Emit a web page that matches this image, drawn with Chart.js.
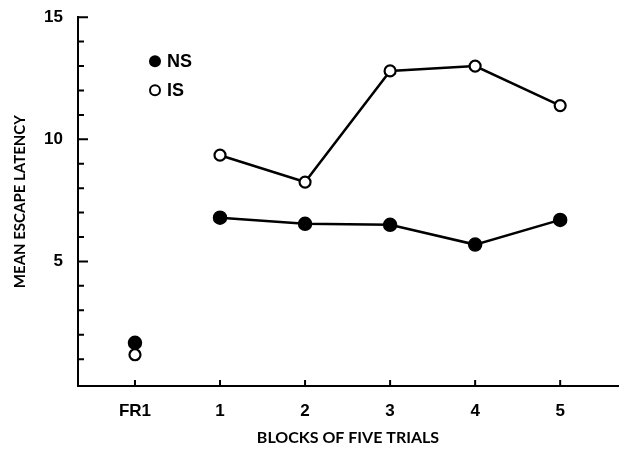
<!DOCTYPE html>
<html>
<head>
<meta charset="utf-8">
<script src="https://cdn.jsdelivr.net/npm/chart.js@4.4.1/dist/chart.umd.min.js"></script>
<style>
  html, body { margin: 0; padding: 0; background: #fff; }
  #wrap { width: 627px; height: 458px; }
</style>
</head>
<body>
<div id="wrap"><canvas id="latency"></canvas></div>
<script>
// Blocks on the x axis (FR1 stands apart from the rest)
const categories = ['FR1', '1', '2', '3', '4', '5'];
// Mean escape latency per block
const nsValues = [1.67, 6.79, 6.54, 6.5, 5.69, 6.7];
const isValues = [1.18, 9.35, 8.25, 12.8, 13.0, 11.38];
const yTickLabels = [5, 10, 15];

const toPoints = vals => vals.map((v, i) => ({ x: i, y: v }));
// no line between FR1 and block 1
const skipFirst = { borderColor: c => c.p0DataIndex === 0 ? 'rgba(0,0,0,0)' : '#000' };
const tickFont = { family: '"Liberation Sans", Arial, sans-serif', size: 17, weight: 'bold' };

// inward tick marks + legend inside the plot
const extras = {
    id: 'extras',
    afterDraw(chart) {
        const ctx = chart.ctx;
        const x = chart.scales.x, y = chart.scales.y;
        ctx.save();
        ctx.strokeStyle = '#000';
        ctx.lineWidth = 2;
        ctx.beginPath();
        for (let v = 1; v <= 15; v++) {
            const py = y.getPixelForValue(v);
            const len = v % 5 === 0 ? 10 : 6;
            ctx.moveTo(x.left, py);
            ctx.lineTo(x.left + len, py);
        }
        categories.forEach((c, i) => {
            const px = x.getPixelForValue(i);
            ctx.moveTo(px, y.bottom);
            ctx.lineTo(px, y.bottom - 6);
        });
        ctx.stroke();

        // legend
        const lx = chart.chartArea.left + 77, ly = chart.chartArea.top + 44;
        ctx.font = 'bold 18px "Liberation Sans", Arial, sans-serif';
        ctx.textBaseline = 'middle';
        ctx.fillStyle = '#000';
        ctx.beginPath();
        ctx.arc(lx, ly, 6, 0, Math.PI * 2);
        ctx.fill();
        ctx.fillText('NS', lx + 12, ly + 1);
        ctx.beginPath();
        ctx.fillStyle = '#fff';
        ctx.arc(lx, ly + 29, 5, 0, Math.PI * 2);
        ctx.fill();
        ctx.stroke();
        ctx.fillStyle = '#000';
        ctx.fillText('IS', lx + 12, ly + 30);
        ctx.restore();
    }
};

new Chart(document.getElementById('latency'), {
    type: 'line',
    data: {
        datasets: [{
            label: 'NS',
            data: toPoints(nsValues),
            borderColor: '#000',
            borderWidth: 2.5,
            backgroundColor: '#000',
            pointBackgroundColor: '#000',
            pointBorderColor: '#000',
            pointRadius: 6,
            segment: skipFirst
        }, {
            label: 'IS',
            data: toPoints(isValues),
            borderColor: '#000',
            borderWidth: 2.5,
            pointBackgroundColor: '#fff',
            pointBorderColor: '#000',
            pointBorderWidth: 2.2,
            pointRadius: 5.5,
            segment: skipFirst
        }]
    },
    options: {
        responsive: true,
        maintainAspectRatio: false,
        animation: false,
        layout: { padding: { top: 15, right: 9, left: 0, bottom: 0 } },
        plugins: {
            legend: { display: false },
            tooltip: { enabled: false }
        },
        scales: {
            x: {
                type: 'linear',
                min: -0.67,
                max: 5.68,
                afterBuildTicks: s => { s.ticks = categories.map((c, i) => ({ value: i })); },
                afterFit: s => { s.height = 72; },
                grid: { display: false },
                border: { display: true, color: '#000', width: 2 },
                ticks: {
                    callback: v => categories[v],
                    color: '#000',
                    padding: 7,
                    maxRotation: 0,
                    font: tickFont
                },
                title: {
                    display: true,
                    text: 'BLOCKS OF FIVE TRIALS',
                    color: '#000',
                    padding: { top: 0, bottom: 11 },
                    font: { family: 'Lato, sans-serif', size: 16, weight: 'bold' }
                }
            },
            y: {
                min: -0.1,
                max: 15,
                afterBuildTicks: s => { s.ticks = yTickLabels.map(v => ({ value: v })); },
                afterFit: s => { s.width = 78; },
                grid: { display: false },
                border: { display: true, color: '#000', width: 2 },
                ticks: {
                    color: '#000',
                    padding: 7,
                    font: tickFont
                },
                title: {
                    display: true,
                    text: 'MEAN ESCAPE LATENCY',
                    color: '#000',
                    padding: { top: 11, bottom: 0 },
                    font: { family: 'Lato, sans-serif', size: 15, weight: 'bold' }
                }
            }
        }
    },
    plugins: [extras]
});
</script>
</body>
</html>
